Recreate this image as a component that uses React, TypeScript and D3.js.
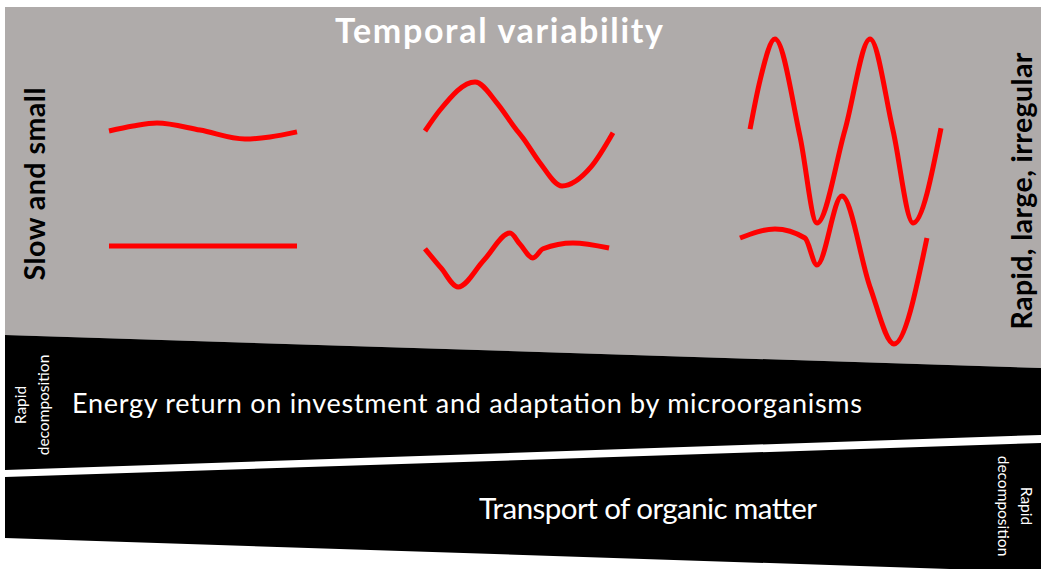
import React, { useEffect, useRef } from "react";
import * as d3 from "d3";

// wave shapes, [time, amplitude]; amplitude 1 = the largest swing
const slowTop = [[0, 0], [1.28, 0.054], [2.55, 0.087], [4.84, 0.01], [7.23, -0.087], [8.56, -0.065], [10, -0.01]];
const slowBottom = [[0, 0], [10, 0]];
const midTop = [[0, 0], [0.8, 0.228], [2.66, 0.533], [3.83, 0.304], [4.79, 0.033], [5.21, -0.076], [6.12, -0.348], [7.29, -0.598], [8.83, -0.391], [10, -0.02]];
const midBottom = [[0, -0.03], [0.85, -0.239], [1.76, -0.446], [3.14, -0.152], [4.52, 0.141], [5.05, 0.02], [5.74, -0.13], [6.28, -0.03], [7.87, 0.033], [9.79, -0.022]];
const fastTop = [[0.5, 0.02], [1.0, 0.554], [1.74, 1.0], [2.99, -0.065], [3.83, -1.0], [5.22, 0.01], [6.47, 1.0], [7.61, 0.01], [8.61, -1.0], [10, 0.03]];
const fastBottom = [[0, 0.087], [1.74, 0.185], [3.23, 0.087], [3.83, -0.207], [5.07, 0.543], [6.47, -0.446], [7.66, -1.065], [9.3, 0.087]];

const panels = [
  { range: [109, 297], top: slowTop, bottom: slowBottom },
  { range: [425, 613], top: midTop, bottom: midBottom },
  { range: [740, 941], top: fastTop, bottom: fastBottom },
];

const title = "Temporal variability";
const leftLabel = "Slow and small";
const rightLabel = "Rapid, large, irregular";
const band1Label = "Energy return on investment and adaptation by microorganisms";
const band2Label = "Transport of organic matter";
const sideLabel = ["Rapid", "decomposition"];

export default function App() {
  const ref = useRef(null);
  const width = 1041;
  const height = 569;
  const font = "Lato, 'Open Sans', sans-serif";

  useEffect(() => {
    const svg = d3.select(ref.current);
    svg.selectAll("*").remove();

    // background shapes
    svg.append("rect").attr("width", width).attr("height", height).attr("fill", "#fff");
    svg.append("polygon")
      .attr("points", "5,7 1041,7 1041,368 5,335")
      .attr("fill", "#afabaa");
    svg.append("polygon")
      .attr("points", "5,335 1041,368 1041,435 5,470")
      .attr("fill", "#000");
    svg.append("polygon")
      .attr("points", "5,477 1041,443 1041,572 5,538")
      .attr("fill", "#000");

    const yTop = d3.scaleLinear().domain([-1, 1]).range([223, 39]);
    const yBottom = d3.scaleLinear().domain([-1, 1]).range([338, 154]);

    for (const p of panels) {
      const x = d3.scaleLinear().domain([0, 10]).range(p.range);
      const lineTop = d3.line().x((d) => x(d[0])).y((d) => yTop(d[1])).curve(d3.curveMonotoneX);
      const lineBottom = d3.line().x((d) => x(d[0])).y((d) => yBottom(d[1])).curve(d3.curveMonotoneX);
      svg.append("path").attr("d", lineTop(p.top))
        .attr("fill", "none").attr("stroke", "#ff0000").attr("stroke-width", 5);
      svg.append("path").attr("d", lineBottom(p.bottom))
        .attr("fill", "none").attr("stroke", "#ff0000").attr("stroke-width", 5);
    }

    svg.append("text")
      .attr("x", 335).attr("y", 43)
      .attr("textLength", 328)
      .attr("font-family", font).attr("font-weight", 700).attr("font-size", 34)
      .attr("fill", "#fff").text(title);

    svg.append("text")
      .attr("transform", "translate(45,184) rotate(-90)")
      .attr("text-anchor", "middle")
      .attr("textLength", 193)
      .attr("font-family", font).attr("font-weight", 700).attr("font-size", 28.5)
      .attr("fill", "#000").text(leftLabel);

    svg.append("text")
      .attr("transform", "translate(1032,191) rotate(-90)")
      .attr("text-anchor", "middle")
      .attr("textLength", 277)
      .attr("font-family", font).attr("font-weight", 700).attr("font-size", 28.5)
      .attr("fill", "#000").text(rightLabel);

    svg.append("text")
      .attr("x", 72).attr("y", 413)
      .attr("textLength", 790)
      .attr("font-family", font).attr("font-size", 27)
      .attr("fill", "#fff").text(band1Label);

    svg.append("text")
      .attr("x", 479).attr("y", 519)
      .attr("textLength", 338)
      .attr("font-family", font).attr("font-size", 29.5)
      .attr("fill", "#fff").text(band2Label);

    const left = svg.append("text")
      .attr("transform", "translate(26,405) rotate(-90)")
      .attr("text-anchor", "middle")
      .attr("font-family", font).attr("font-size", 15.5)
      .attr("fill", "#fff");
    sideLabel.forEach((s, i) =>
      left.append("tspan").attr("x", 0).attr("dy", i === 0 ? 0 : 23).text(s));

    const right = svg.append("text")
      .attr("transform", "translate(1021,506) rotate(90)")
      .attr("text-anchor", "middle")
      .attr("font-family", font).attr("font-size", 15.5)
      .attr("fill", "#fff");
    sideLabel.forEach((s, i) =>
      right.append("tspan").attr("x", 0).attr("dy", i === 0 ? 0 : 23).text(s));
  }, []);

  return (
    <svg
      ref={ref}
      width={width}
      height={height}
      style={{ position: "absolute", left: 0, top: 0 }}
    ></svg>
  );
}
